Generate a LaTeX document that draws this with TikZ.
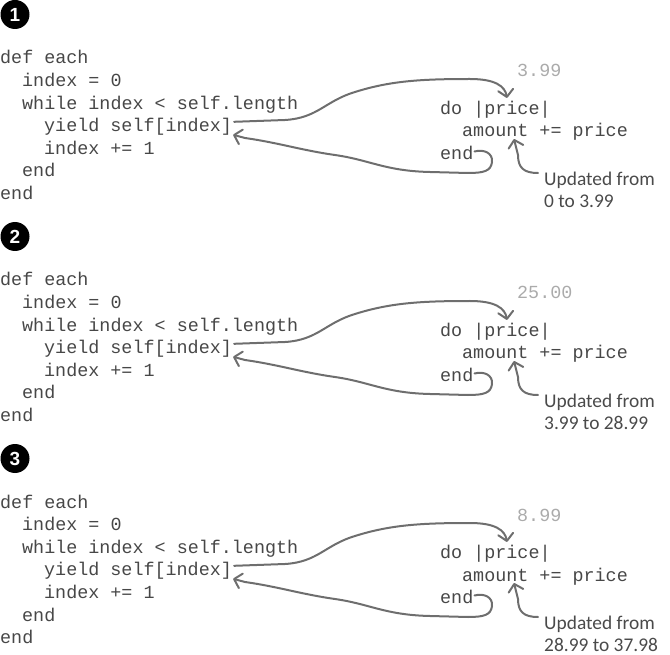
\documentclass[tikz,border=0pt]{standalone}
\usepackage{fontspec}
\setmainfont{Liberation Sans}
\setmonofont{Liberation Mono}
\newfontfamily\notefont{Carlito}
\usetikzlibrary{arrows.meta}

\definecolor{codegray}{HTML}{474747}
\definecolor{valgray}{HTML}{ABABAB}
\definecolor{flowgray}{HTML}{6E6E6E}
\definecolor{notegray}{HTML}{4A4A4A}

\tikzset{
  code/.style={font=\ttfamily\fontsize{18.4}{22}\selectfont, text=codegray, anchor=base west, inner sep=0pt},
  value/.style={code, text=valgray},
  note/.style={font=\notefont\fontsize{19.4}{22}\selectfont, text=notegray, align=left, anchor=north west, inner sep=0pt},
  badge/.style={circle, fill=black, text=white, minimum size=29pt, inner sep=0pt, font=\bfseries\fontsize{19}{19}\selectfont},
  flow/.style={draw=flowgray, line width=2pt, line cap=round, line join=round, -{Straight Barb[length=7pt,width=15pt,round]}}
}

\begin{document}
\begin{tikzpicture}[x=1pt, y=-1pt]
  \useasboundingbox (0,0) rectangle (670,655);
  \foreach \p/\val/\upd in {1/3.99/0 to 3.99, 2/25.00/3.99 to 28.99, 3/8.99/28.99 to 37.98} {
    \begin{scope}[shift={(0,{222*(\p-1)})}]
      % step number
      \node[badge] (badge\p) at (15,14.5) {\p};
      % Left: the each method.
      \node[code] (def\p)   at (0,64)    {def each};
      \node[code] (init\p)  at (22,86.6) {index = 0};
      \node[code] (while\p) at (22,109.2) {while index < self.length};
      \node[code] (yield\p) at (44,131.8) {yield self[index]};
      \node[code] (incr\p)  at (44,154.4) {index += 1};
      \node[code] (wend\p)  at (22,177)  {end};
      \node[code] (dend\p)  at (0,199.6) {end};
      % Right: the block and the value passed in.
      \node[value] (val\p)  at (517,77)    {\val};
      \node[code] (do\p)     at (440,114.5) {do |price|};
      \node[code] (amount\p) at (462,137)   {amount += price};
      \node[code] (bend\p)   at (440,159.5) {end};
      \node[note] (note\p)   at (544,171.5) {Updated from\\\upd};
      % yield hands the value to the block ...
      \draw[flow] ([xshift=2pt,yshift=10pt]yield\p.base east) -- (285,120)
        .. controls (318,118) and (325,101) .. (355,92)
        .. controls (390,81) and (420,79) .. (470,79)
        .. controls (495,79) and (505,86) .. ([xshift=67pt,yshift=3pt]do\p.north west);
      % ... and the block hands control back.
      \draw[flow] ([xshift=1pt,yshift=8pt]bend\p.base east)
        .. controls (484,149) and (493,153) .. (492,162)
        .. controls (491,171) and (484,173) .. (468,173) -- (430,172)
        .. controls (385,171) and (370,160) .. (335,155)
        .. controls (300,150) and (280,143) .. (245,138)
        -- ([xshift=1pt,yshift=-3pt]yield\p.base east);
      % note on amount
      \draw[flow] ([xshift=-6pt,yshift=-1.5pt]note\p.north west)
        .. controls (524,173) and (518,168) .. (518,155)
        -- ([xshift=52pt,yshift=-2pt]amount\p.base west);
    \end{scope}
  }
\end{tikzpicture}
\end{document}
